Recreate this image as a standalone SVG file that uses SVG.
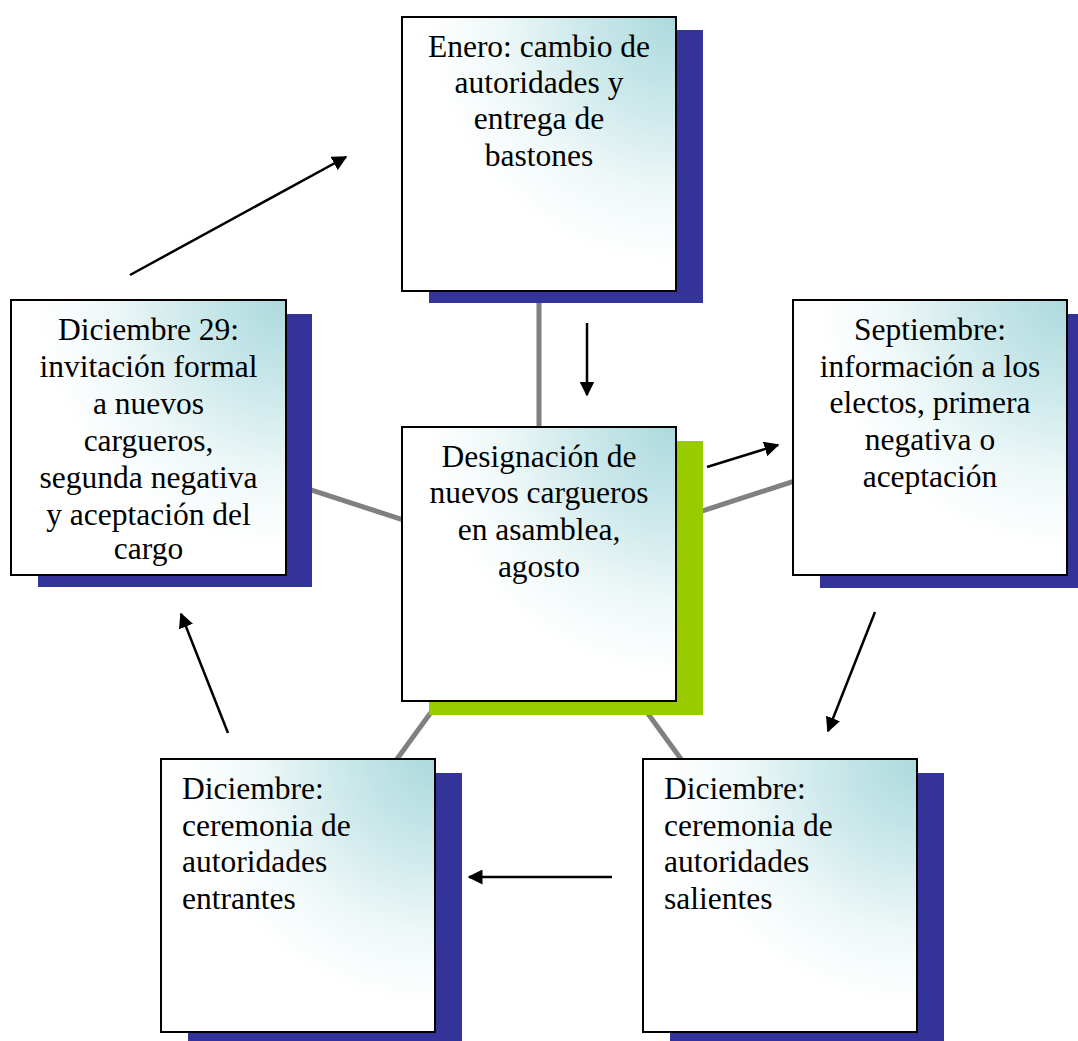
<svg xmlns="http://www.w3.org/2000/svg" width="1078" height="1041" viewBox="0 0 1078 1041">
<defs>
<radialGradient id="g" cx="1" cy="0" r="1" fx="1" fy="0">
<stop offset="0" stop-color="#acd9dd"/>
<stop offset="0.35" stop-color="#cde9eb"/>
<stop offset="0.65" stop-color="#eff8f8"/>
<stop offset="0.9" stop-color="#ffffff"/>
</radialGradient>
<marker id="ah" viewBox="0 0 10 10" refX="9" refY="5" markerWidth="6" markerHeight="6" markerUnits="strokeWidth" orient="auto">
<path d="M0,0 L10,5 L0,10 z" fill="#000"/>
</marker>
<clipPath id="clipL"><rect x="11" y="300" width="275" height="266"/></clipPath>
</defs>
<style>
.box{fill:url(#g);stroke:#000;stroke-width:2}
.sh{fill:#333399}
.shg{fill:#99cc00}
.t{font-family:"Liberation Serif","Times New Roman",serif;font-size:31.5px;fill:#000}
.c{text-anchor:middle}
.spoke{stroke:#808080;stroke-width:5}
.arr{stroke:#000;stroke-width:2.5;fill:none;marker-end:url(#ah)}
</style>
<rect width="1078" height="1041" fill="#fff"/>
<g id="spokes">
<line class="spoke" x1="539" y1="564" x2="539" y2="153"/>
<line class="spoke" x1="539" y1="564" x2="148" y2="437"/>
<line class="spoke" x1="539" y1="564" x2="930" y2="437"/>
<line class="spoke" x1="539" y1="564" x2="298" y2="895"/>
<line class="spoke" x1="539" y1="564" x2="780" y2="895"/>
</g>
<g id="node-enero">
<rect class="sh" x="429" y="30" width="274" height="273"/>
<rect class="box" x="402" y="17" width="274" height="274"/>
<text class="t c"><tspan x="539" y="57">Enero: cambio de</tspan><tspan x="539" y="93">autoridades y</tspan><tspan x="539" y="129">entrega de</tspan><tspan x="539" y="166">bastones</tspan></text>
</g>
<g id="node-designacion">
<rect class="shg" x="429" y="441" width="274" height="274"/>
<rect class="box" x="402" y="427" width="274" height="274"/>
<text class="t c"><tspan x="539" y="467">Designación de</tspan><tspan x="539" y="503">nuevos cargueros</tspan><tspan x="539" y="540">en asamblea,</tspan><tspan x="539" y="577">agosto</tspan></text>
</g>
<g id="node-dic29">
<rect class="sh" x="38" y="314" width="274" height="273"/>
<rect class="box" x="11" y="300" width="275" height="275"/>
<text class="t c" clip-path="url(#clipL)"><tspan x="148.5" y="340">Diciembre 29:</tspan><tspan x="148.5" y="377">invitación formal</tspan><tspan x="148.5" y="414">a nuevos</tspan><tspan x="148.5" y="451">cargueros,</tspan><tspan x="148.5" y="488">segunda negativa</tspan><tspan x="148.5" y="525">y aceptación del</tspan><tspan x="148.5" y="559">cargo</tspan></text>
</g>
<g id="node-septiembre">
<rect class="sh" x="820" y="314" width="258" height="274"/>
<rect class="box" x="793" y="300" width="274" height="275"/>
<text class="t c"><tspan x="930" y="340">Septiembre:</tspan><tspan x="930" y="377">información a los</tspan><tspan x="930" y="413">electos, primera</tspan><tspan x="930" y="450">negativa o</tspan><tspan x="930" y="487">aceptación</tspan></text>
</g>
<g id="node-entrantes">
<rect class="sh" x="188" y="773" width="274" height="268"/>
<rect class="box" x="161" y="759" width="274" height="273"/>
<text class="t"><tspan x="182" y="799">Diciembre:</tspan><tspan x="182" y="836">ceremonia de</tspan><tspan x="182" y="872">autoridades</tspan><tspan x="182" y="909">entrantes</tspan></text>
</g>
<g id="node-salientes">
<rect class="sh" x="670" y="773" width="274" height="268"/>
<rect class="box" x="643" y="759" width="274" height="273"/>
<text class="t"><tspan x="664" y="799">Diciembre:</tspan><tspan x="664" y="836">ceremonia de</tspan><tspan x="664" y="872">autoridades</tspan><tspan x="664" y="909">salientes</tspan></text>
</g>
<g id="connectors">
<line class="arr" x1="130" y1="275" x2="346" y2="157"/>
<line class="arr" x1="587" y1="323" x2="587" y2="395"/>
<line class="arr" x1="707" y1="467" x2="778" y2="445"/>
<line class="arr" x1="875" y1="612" x2="828" y2="731"/>
<line class="arr" x1="612" y1="877" x2="469" y2="877"/>
<line class="arr" x1="228" y1="733" x2="181" y2="614"/>
</g>
</svg>
